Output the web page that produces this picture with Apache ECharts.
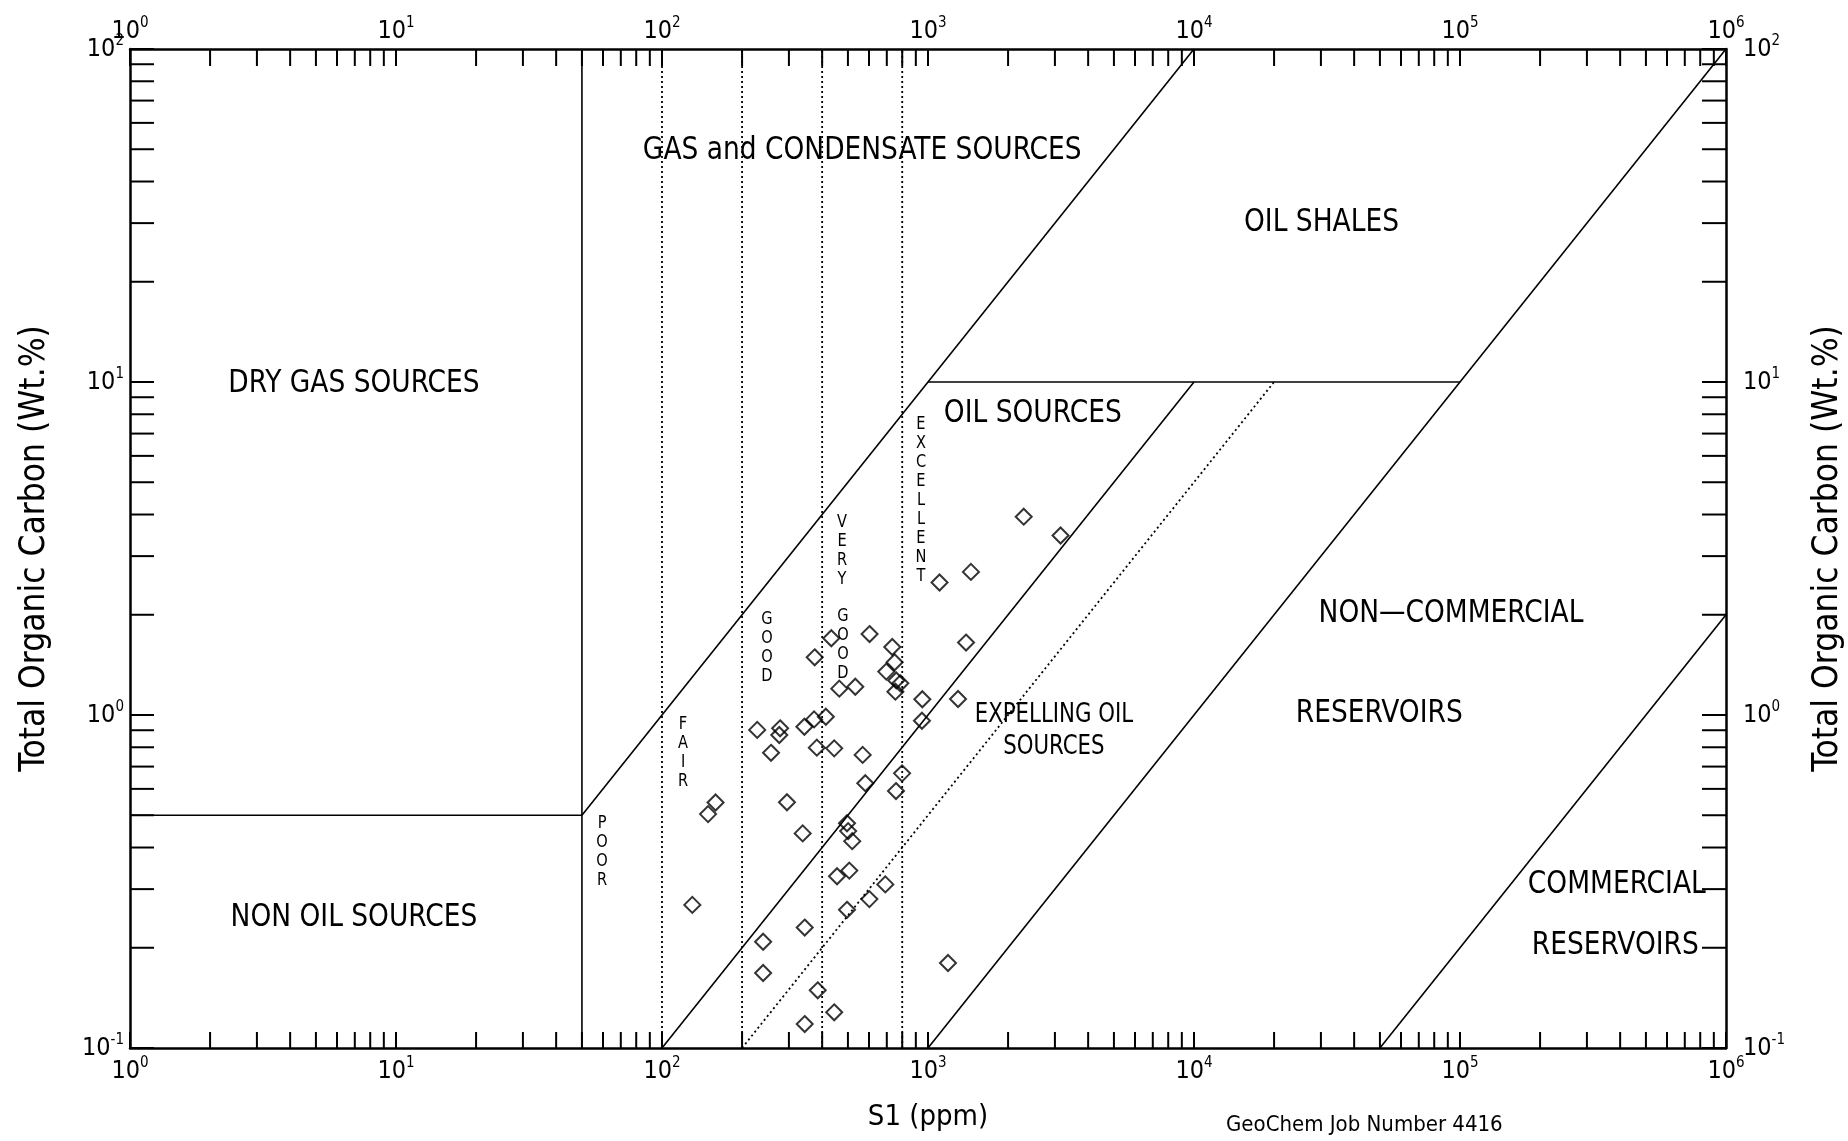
<!DOCTYPE html>
<html><head><meta charset="utf-8">
<script src="https://cdn.jsdelivr.net/npm/echarts@6/dist/echarts.min.js"></script>
<style>html,body{margin:0;padding:0;background:#fff}#chart{width:1848px;height:1141px}</style>
</head><body><div id="chart"></div>
<script>
const FONT = "'Liberation Sans Narrow','Arial Narrow','DejaVu Sans Condensed',sans-serif";

// Axis decades and tick multipliers
const xExponents = [0, 1, 2, 3, 4, 5, 6];
const yExponents = [-1, 0, 1, 2];
const tickMultipliers = [1, 2, 3, 4, 5, 6, 7, 8, 9];

// Samples: S1 (ppm) and TOC (wt.%)
const sampleS1 = [2290, 3150, 1450, 1105, 1390, 603, 433, 734, 375, 749, 697, 760, 787, 754, 464, 533, 952, 1297, 949, 413, 373, 343, 228, 278, 276, 382, 444, 257, 568, 799, 581, 758, 159, 149, 295, 338, 496, 501, 519, 130, 455, 506, 691, 602, 496, 344, 240, 240, 385, 444, 344, 1189];
const sampleTOC = [3.94, 3.46, 2.69, 2.50, 1.65, 1.75, 1.70, 1.60, 1.49, 1.44, 1.35, 1.27, 1.245, 1.175, 1.20, 1.216, 1.115, 1.117, 0.961, 0.988, 0.97, 0.922, 0.902, 0.912, 0.871, 0.798, 0.794, 0.77, 0.759, 0.668, 0.624, 0.591, 0.546, 0.504, 0.547, 0.441, 0.473, 0.448, 0.418, 0.269, 0.328, 0.341, 0.310, 0.280, 0.260, 0.230, 0.2085, 0.168, 0.149, 0.128, 0.118, 0.18];

// Classification boundaries [S1, TOC] end points
const solidBoundaries = [
  [[50, 0.1], [50, 100]],
  [[1, 0.5], [50, 0.5]],
  [[50, 0.5], [1e4, 100]],
  [[100, 0.1], [1e4, 10]],
  [[1000, 10], [1e5, 10]],
  [[1000, 0.1], [1e6, 100]],
  [[5e4, 0.1], [1e6, 2]]
];
const dottedBoundaries = [
  [[100, 0.1], [100, 100]],
  [[200, 0.1], [200, 100]],
  [[400, 0.1], [400, 100]],
  [[800, 0.1], [800, 100]],
  [[200, 0.1], [2e4, 10]]
];

// Region labels
const majorLabels = ['GAS and CONDENSATE SOURCES', 'OIL SHALES', 'DRY GAS SOURCES', 'OIL SOURCES', 'NON\u2014COMMERCIAL', 'RESERVOIRS', 'NON OIL SOURCES', 'COMMERCIAL', 'RESERVOIRS'];
const majorLabelS1 = [566, 30150, 6.95, 2477, 92500, 49700, 6.95, 388600, 383700];
const majorLabelTOC = [49.4, 30.1, 9.85, 8.03, 2.01, 1.01, 0.247, 0.309, 0.2035];
const minorLabels = ['EXPELLING OIL', 'SOURCES'];
const minorLabelS1 = [2974, 2974];
const minorLabelTOC = [0.997, 0.80];
const richnessLabels = ['POOR', 'FAIR', 'GOOD', 'VERY', 'GOOD', 'EXCELLENT'];
const richnessS1 = [59.5, 120, 248, 475, 479, 941];
const richnessTOC = [0.388, 0.769, 1.59, 3.11, 1.62, 4.42];

const xAxisName = 'S1 (ppm)';
const yAxisName = 'Total Organic Carbon (Wt.%)';
const footerText = 'GeoChem Job Number 4416';

// ---- build helpers ----
function decadeTicks(exps) {
  const out = [];
  for (let i = 0; i < exps.length - 1; i++) {
    for (const m of tickMultipliers) out.push(Number((m * Math.pow(10, exps[i])).toPrecision(12)));
  }
  out.push(Math.pow(10, exps[exps.length - 1]));
  return out;
}
const xTicks = decadeTicks(xExponents);
const yTicks = decadeTicks(yExponents);
const xMin = Math.pow(10, xExponents[0]), xMax = Math.pow(10, xExponents[xExponents.length - 1]);
const yMin = Math.pow(10, yExponents[0]), yMax = Math.pow(10, yExponents[yExponents.length - 1]);

const labelRich = {
  b: { fontFamily: FONT, fontSize: 25, lineHeight: 30, color: '#000' },
  s: { fontFamily: FONT, fontSize: 15, lineHeight: 15, verticalAlign: 'top', color: '#000' }
};
function powLabel(v) {
  const e = Math.round(Math.log10(v));
  return '{b|10}{s|' + e + '}';
}
const axisLineStyle = { color: '#000', width: 2.5 };

function makeX(pos, margin, withName) {
  const a = {
    type: 'log', logBase: 10, min: xMin, max: xMax, splitNumber: xExponents.length - 1,
    position: pos,
    axisLine: { show: true, lineStyle: axisLineStyle },
    axisTick: { show: false }, minorTick: { show: false },
    splitLine: { show: false }, minorSplitLine: { show: false },
    axisLabel: { formatter: powLabel, rich: labelRich, margin: margin }
  };
  if (withName) {
    a.name = xAxisName; a.nameLocation = 'middle'; a.nameGap = 55;
    a.nameTextStyle = { fontFamily: FONT, fontSize: 29, color: '#000' };
  }
  return a;
}
function makeY(pos, margin, gap) {
  return {
    type: 'log', logBase: 10, min: yMin, max: yMax, splitNumber: yExponents.length - 1,
    position: pos,
    axisLine: { show: true, lineStyle: axisLineStyle },
    axisTick: { show: false }, minorTick: { show: false },
    splitLine: { show: false }, minorSplitLine: { show: false },
    axisLabel: { formatter: powLabel, rich: labelRich, margin: margin },
    name: yAxisName, nameLocation: 'middle', nameRotate: 90, nameGap: gap,
    nameTextStyle: { fontFamily: FONT, fontSize: 35, color: '#000' }
  };
}

const series = [];
solidBoundaries.forEach(seg => series.push({
  type: 'line', data: seg, symbol: 'none', silent: true, clip: true,
  lineStyle: { color: '#000', width: 1.6 }, xAxisIndex: 0, yAxisIndex: 0
}));
dottedBoundaries.forEach(seg => series.push({
  type: 'line', data: seg, symbol: 'none', silent: true, clip: true,
  lineStyle: { color: '#000', width: 1.8, type: [2, 3] }, xAxisIndex: 0, yAxisIndex: 0
}));

// ticks
series.push({
  type: 'custom', xAxisIndex: 0, yAxisIndex: 0, silent: true,
  data: xTicks.map(v => [v, 1]),
  renderItem: (params, api) => {
    const v = api.value(0);
    const b = api.coord([v, yMin]);
    const t = api.coord([v, yMax]);
    return { type: 'group', children: [
      { type: 'line', shape: { x1: b[0], y1: b[1], x2: b[0], y2: b[1] - 16 }, style: { stroke: '#000', lineWidth: 2 } },
      { type: 'line', shape: { x1: t[0], y1: t[1], x2: t[0], y2: t[1] + 17 }, style: { stroke: '#000', lineWidth: 2 } }
    ] };
  }
});
series.push({
  type: 'custom', xAxisIndex: 0, yAxisIndex: 0, silent: true,
  data: yTicks.map(v => [10, v]),
  renderItem: (params, api) => {
    const v = api.value(1);
    const l = api.coord([xMin, v]);
    const r = api.coord([xMax, v]);
    return { type: 'group', children: [
      { type: 'line', shape: { x1: l[0], y1: l[1], x2: l[0] + 24, y2: l[1] }, style: { stroke: '#000', lineWidth: 2 } },
      { type: 'line', shape: { x1: r[0], y1: r[1], x2: r[0] - 24, y2: r[1] }, style: { stroke: '#000', lineWidth: 2 } }
    ] };
  }
});

function textSeries(texts, xs, ys, size, lineHeight, squeeze, vertical) {
  return {
    type: 'custom', xAxisIndex: 0, yAxisIndex: 0, silent: true,
    data: xs.map((x, i) => [x, ys[i]]),
    renderItem: (params, api) => {
      const p = api.coord([api.value(0), api.value(1)]);
      let t = texts[params.dataIndex];
      if (vertical) t = t.split('').join('\n');
      return { type: 'text', x: p[0], y: p[1], scaleX: squeeze, style: {
        text: t, fontFamily: FONT, fontSize: size, lineHeight: lineHeight, fill: '#000',
        align: 'center', verticalAlign: 'middle'
      } };
    }
  };
}
series.push(textSeries(majorLabels, majorLabelS1, majorLabelTOC, 32, 36, 0.92, false));
series.push(textSeries(minorLabels, minorLabelS1, minorLabelTOC, 26, 30, 0.91, false));
series.push(textSeries(richnessLabels, richnessS1, richnessTOC, 18, 19, 0.9, true));

series.push({
  type: 'scatter', xAxisIndex: 0, yAxisIndex: 0,
  data: sampleS1.map((x, i) => [x, sampleTOC[i]]),
  symbol: 'diamond', symbolSize: 16,
  itemStyle: { color: 'rgba(0,0,0,0)', borderColor: '#000', borderWidth: 2 }
});

const chart = echarts.init(document.getElementById('chart'), null, { renderer: 'canvas' });
chart.setOption({
  animation: false,
  backgroundColor: '#fff',
  title: { text: footerText, left: 1226, top: 1114, padding: 0,
    textStyle: { fontFamily: FONT, fontSize: 22, fontWeight: 'normal', color: '#000' } },
  grid: { left: 130, right: 122, top: 49, bottom: 93, containLabel: false, outerBoundsMode: 'none' },
  xAxis: [makeX('bottom', 8, true), makeX('top', 3, false)],
  yAxis: [makeY('left', 6, 78), makeY('right', 17, 84)],
  series: series
});
</script></body></html>
